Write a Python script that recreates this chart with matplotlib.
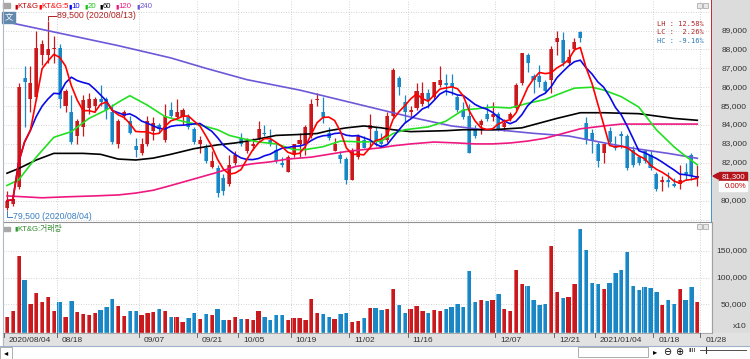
import numpy as np
import pandas as pd
import matplotlib.pyplot as plt
import matplotlib.transforms as mtransforms
from matplotlib.patches import Rectangle, Polygon

plt.rcParams['font.family'] = ['Liberation Sans', 'Noto Sans CJK KR', 'DejaVu Sans']

# KT&G 일봉 (2020/08/04 ~ 2021/01/27), 값은 차트에서 읽음
opens = [79600, 79800, 80700, 86500, 85400, 85500, 87700, 87700, 88000, 88100,
         85000, 84700, 83400, 83900, 84900, 85000, 85400, 85400, 84700, 83000,
         84500, 84200, 82900, 82500, 83000, 83700, 84000, 83200, 84800, 84400,
         84400, 84400, 83800, 83000, 82800, 81800, 81700, 81200, 80900, 82000,
         83300, 82600, 82900, 83300, 83600, 83200, 82700, 82000, 81500, 82400,
         83000, 83000, 83400, 85300, 84700, 83600, 82600, 82400, 82200, 81100,
         82300, 83200, 83800, 83700, 83200, 83200, 84500, 86500, 85200, 84700,
         84900, 85100, 85700, 85500, 86100, 86200, 86200, 85500, 84800, 84500,
         83800, 84000, 84600, 84400, 84600, 83900, 84300, 84900, 86200, 87700,
         86600, 86600, 86300, 86400, 88400, 88500, 87300, 88000, 88900, 84100,
         83600, 83000, 82500, 83700, 82900, 83500, 83400, 82700, 82300, 82600,
         82400, 81400, 81000, 81100, 80900, 80900, 81500, 82400, 81200]
highs = [80500, 80300, 86200, 87100, 87100, 89000, 88500, 89500, 88700, 88300,
         85900, 85600, 84300, 85600, 85700, 85500, 86100, 85500, 85100, 84300,
         84800, 84500, 83300, 83300, 84500, 84400, 84100, 85100, 85200, 85400,
         84900, 84600, 83900, 83400, 83000, 82600, 81900, 81400, 82400, 82600,
         83600, 83300, 83300, 84200, 84000, 83800, 83000, 82300, 82400, 83000,
         83600, 84000, 85400, 85700, 85500, 83900, 83300, 82600, 82300, 82800,
         83500, 83400, 84600, 83900, 83600, 84700, 87000, 86600, 85600, 85000,
         86200, 86300, 85900, 86300, 87100, 86700, 86700, 85600, 85200, 85100,
         84000, 84300, 85100, 85200, 84700, 84300, 84700, 86200, 87800, 87800,
         86700, 87200, 86400, 88200, 89000, 88900, 88000, 88600, 89000, 84400,
         83800, 83100, 83000, 83900, 83400, 83700, 83500, 82900, 82400, 82700,
         82600, 81500, 81300, 81500, 81200, 81900, 82000, 82500, 81900]
lows = [79500, 79700, 80600, 83900, 84700, 85300, 87200, 87300, 87300, 84900,
        84700, 83000, 83000, 83400, 84600, 84700, 85000, 84300, 83000, 82800,
        84300, 83500, 82300, 82400, 82900, 83200, 83600, 83100, 84400, 84300,
        84000, 83800, 83000, 82500, 82000, 81700, 80200, 80300, 80800, 81900,
        82900, 82500, 82700, 83200, 83400, 82900, 82000, 81800, 81500, 82300,
        82300, 82400, 83300, 85000, 84100, 83200, 82600, 82000, 80900, 81100,
        82200, 82800, 82800, 82900, 82900, 83100, 84400, 85600, 84100, 84400,
        84800, 85000, 84900, 85400, 86000, 85600, 85600, 84700, 84300, 82500,
        83300, 83500, 84200, 84200, 83700, 83700, 84200, 84800, 86100, 86800,
        85700, 86000, 85700, 85700, 87700, 87100, 87200, 87900, 88400, 83000,
        82500, 81800, 82000, 83000, 82700, 82800, 81600, 81800, 81900, 82000,
        81600, 80500, 80500, 80700, 80700, 80600, 81100, 81100, 80800]
closes = [80000, 80100, 86000, 86300, 86200, 88100, 88300, 88000, 88100, 85400,
          85800, 83100, 84200, 85300, 85400, 85400, 85200, 84800, 83100, 84200,
          84700, 83600, 82700, 83000, 84200, 84100, 83800, 84500, 84500, 84700,
          84800, 83900, 83100, 83200, 82100, 82100, 80400, 80500, 81900, 82400,
          83000, 83100, 83000, 83800, 83500, 83000, 82100, 81900, 82300, 83000,
          83200, 83900, 85100, 85400, 84400, 83300, 83000, 82200, 81100, 82600,
          83400, 82800, 84000, 83100, 83000, 84500, 86900, 86000, 84700, 84800,
          85800, 85700, 85300, 86300, 86400, 86100, 86000, 84800, 84400, 82500,
          83400, 84200, 84300, 84600, 83800, 84100, 84600, 86100, 87800, 87300,
          86400, 86300, 85800, 88000, 88600, 87300, 87600, 88400, 88600, 83200,
          83200, 82100, 83000, 83100, 82800, 83400, 81700, 81900, 82000, 82100,
          81700, 80600, 81100, 81000, 80800, 81100, 81400, 81300, 81300]
volumes = [26900, 37500, 140100, 95300, 50600, 70500, 55000, 63600, 37500, 53600,
           26900, 56200, 35700, 31300, 30000, 34400, 39400, 45600, 59900, 46800,
           28200, 38100, 38100, 29400, 34400, 35700, 40700, 37500, 26900, 26900,
           16900, 23800, 34400, 21900, 31900, 30600, 41900, 20000, 20600, 25600,
           23100, 21900, 20700, 37500, 26900, 20700, 29400, 29400, 20700, 24400,
           24400, 20700, 59900, 33200, 31300, 25600, 21900, 31300, 34400, 17600,
           19500, 24400, 43700, 43700, 39400, 40700, 77900, 48700, 34400, 40700,
           46800, 38100, 34400, 39400, 37500, 40700, 45600, 50000, 45600, 111500,
           54300, 58000, 56200, 57500, 69800, 40700, 38100, 114000, 88500, 83500,
           57500, 48000, 50600, 159400, 73600, 61800, 64200, 87300, 189900, 150700,
           89800, 88500, 78500, 89800, 107800, 113400, 148200, 83500, 77300, 82300,
           81100, 73600, 49300, 57500, 50000, 77900, 57500, 82300, 53700]

# 이동평균 20/60/120/240 (차트에서 읽은 값, 봉 번호 기준)
ma20_idx = [0, 2, 5, 8, 11, 14, 17, 19, 21, 24, 27, 30, 33, 36, 38, 40, 43, 46, 49, 51,
            54, 57, 61, 64, 66, 68, 72, 75, 78, 80, 83, 86, 89, 92, 94, 97, 100, 102, 105, 108,
            111, 114, 116, 118]
ma20_val = [80800, 81100, 82300, 83350, 83650, 84350, 84800, 85200, 85550, 85050,
            84450, 84200, 84000, 83750, 83450, 83300, 83100, 83000, 82700, 82700,
            82850, 83150, 83100, 83150, 83550, 83750, 83900, 84200, 84800, 84850,
            84950, 84900, 85150, 85350, 85600, 85950, 86000, 85850, 85500, 84950,
            83750, 82850, 82350, 81900]
ma60_idx = [0, 2, 5, 8, 13, 16, 19, 22, 25, 28, 32, 36, 39, 42, 46, 50, 53, 55, 58, 61,
            64, 66, 69, 75, 78, 83, 88, 91, 94, 98, 102, 108, 114, 118]
ma60_val = [81450, 81700, 82150, 82500, 82500, 82450, 82200, 82150, 82250, 82450,
            82750, 82950, 83050, 83200, 83450, 83500, 83550, 83700, 83850, 83950,
            83850, 83750, 83650, 83700, 83750, 83750, 83850, 84100, 84350, 84650,
            84650, 84600, 84350, 84250]
ma120_idx = [0, 6, 10, 15, 19, 22, 25, 28, 32, 36, 39, 42, 45, 48, 52, 55, 58, 61, 64, 66,
             69, 73, 77, 80, 83, 86, 89, 92, 95, 98, 102, 105, 111, 118]
ma120_val = [80250, 80150, 80200, 80250, 80300, 80400, 80550, 80800, 81150, 81500,
             81800, 81950, 82050, 82200, 82300, 82450, 82600, 82700, 82800, 82900,
             83000, 83100, 83050, 83000, 83000, 83050, 83150, 83300, 83550, 83800,
             83950, 84050, 84050, 84050]
ma240_idx = [0, 19, 28, 34, 41, 50, 56, 64, 70, 76, 81, 84, 90, 96, 101, 107, 113, 118]
ma240_val = [89450, 88200, 87550, 87000, 86400, 85850, 85400, 84800, 84350, 83950,
             83770, 83740, 83560, 83420, 83120, 82770, 82500, 82240]

tick_idx = [0, 9, 23, 33, 40, 49, 59, 69, 84, 94, 101, 111, 119]
tick_labels = ['2020/08/04', '08/18', '09/07', '09/21', '10/05', '10/19', '11/02',
               '11/16', '12/07', '12/21', '2021/01/04', '01/18', '01/28']

RED, BLUE = '#c8191f', '#1a86c4'
RED_HI, BLUE_HI = '#e46a6a', '#6bbde8'

o = np.array(opens, float)
h = np.array(highs, float)
l = np.array(lows, float)
c = np.array(closes, float)
v = np.array(volumes, float)
x = np.arange(len(c))
up = c >= o
col = np.where(up, RED, BLUE)
col_hi = np.where(up, RED_HI, BLUE_HI)

ma5 = pd.Series(c).rolling(5, min_periods=1).mean()
ma10 = pd.Series(c).rolling(10, min_periods=1).mean()

W, H = 750, 359
fig = plt.figure(figsize=(W / 100, H / 100), dpi=100)


def fx(px):
    return px / W


def fy(py):
    return 1 - py / H


# 오른쪽 회색 축 영역
fig.patches.append(Rectangle((fx(712), fy(345)), fx(750) - fx(712), fy(0) - fy(345),
                             transform=fig.transFigure, color='#dcdcdc', zorder=0))

ax = fig.add_axes([fx(3), fy(222), fx(711) - fx(3), (222 - 1) / H])
axv = fig.add_axes([fx(3), fy(333), fx(711) - fx(3), (333 - 222) / H])
x_lo, x_hi = (3 - 7) / 5.85, (711 - 7) / 5.85
for a in (ax, axv):
    a.set_xlim(x_lo, x_hi)
    a.set_xticks([])
    a.set_yticks([])
    for s in a.spines.values():
        s.set_visible(False)

p_lo, p_hi = 89000 - (222 - 30.5) * 52.9, 89000 + (30.5 - 1) * 52.9
ax.set_ylim(p_lo, p_hi)
v_lo, v_hi = -(333 - 331.1) * 1866, (331.1 - 222) * 1866
axv.set_ylim(v_lo, v_hi)

dot = (0, (1, 2))
grid_x = [i - 0.5 for i in tick_idx[1:]]
ax.hlines(np.arange(79000, 90001, 1000), x_lo, x_hi, colors='#c4c4c4', lw=0.6, linestyles=dot, zorder=0)
ax.vlines(grid_x, p_lo, p_hi, colors='#c4c4c4', lw=0.6, linestyles=dot, zorder=0)
axv.hlines([50000, 100000, 150000], x_lo, x_hi, colors='#c4c4c4', lw=0.6, linestyles=dot, zorder=0)
axv.vlines(grid_x, v_lo, v_hi, colors='#c4c4c4', lw=0.6, linestyles=dot, zorder=0)

# 캔들
body = np.maximum(np.abs(c - o), 60)
ax.vlines(x, l, h, colors=col, lw=0.9, zorder=2)
ax.bar(x, body, bottom=np.minimum(o, c), width=0.7, color=col, lw=0, zorder=2)
ax.bar(x - 0.26, body, bottom=np.minimum(o, c), width=0.17, color=col_hi, lw=0, zorder=2)

# 이동평균선
ax.plot(ma240_idx, ma240_val, color='#6e58d8', lw=1.2, zorder=3)
ax.plot(ma120_idx, ma120_val, color='#ee1880', lw=1.2, zorder=3)
ax.plot(ma60_idx, ma60_val, color='#000000', lw=1.2, zorder=3)
ax.plot(ma20_idx, ma20_val, color='#22e022', lw=1.2, zorder=3)
ax.plot(x, ma10, color='#0a0ae6', lw=1.2, zorder=3)
ax.plot(x, ma5, color='#ff0000', lw=1.2, zorder=3)

# 최고/최저 표시
i_hi, i_lo = int(np.argmax(h)), int(np.argmin(l))
y_hi_txt = 89000 + (30.5 - 15.5) * 52.9
ax.plot([i_hi, i_hi, i_hi + 1.4], [h[i_hi] + 60, y_hi_txt, y_hi_txt], color='#b02020', lw=0.7, zorder=4)
ax.text(i_hi + 1.6, y_hi_txt, '89,500 (2020/08/13)', color='#b02020', fontsize=6.3, va='center', zorder=4)
y_lo_txt = 89000 - (216.7 - 30.5) * 52.9
ax.plot([i_lo, i_lo, i_lo + 0.85], [l[i_lo] - 60, y_lo_txt, y_lo_txt], color='#3a7fc0', lw=0.7, zorder=4)
ax.text(i_lo + 1.1, y_lo_txt, '79,500 (2020/08/04)', color='#3a7fc0', fontsize=6.3, va='center', zorder=4)

# 거래량
axv.bar(x, v - v_lo, bottom=v_lo, width=0.74, color=col, lw=0, zorder=2)
axv.bar(x - 0.27, v - v_lo, bottom=v_lo, width=0.16, color=col_hi, lw=0, zorder=2)

# 현재가
last = c[-1]
last_py = 30.5 + (89000 - last) / 52.9

# 오른쪽 가격축 라벨 (현재가 박스에 가려지는 눈금은 생략)
tr_p = mtransforms.blended_transform_factory(fig.transFigure, ax.transData)
for p in range(80000, 90000, 1000):
    py = 30.5 + (89000 - p) / 52.9
    if -9 < py - last_py < 20:
        continue
    fig.text(fx(747), p, f'{p:,}', transform=tr_p, ha='right', va='center', fontsize=6, color='#333333')
tr_v = mtransforms.blended_transform_factory(fig.transFigure, axv.transData)
for vv in [50000, 100000, 150000]:
    fig.text(fx(747), vv, f'{vv:,}', transform=tr_v, ha='right', va='center', fontsize=6, color='#333333')
fig.text(fx(747), fy(327), 'x10', ha='right', va='center', fontsize=6, color='#333333')

# 현재가 표시선과 박스
tr_line = mtransforms.blended_transform_factory(fig.transFigure, ax.transData)
ax.plot([fx(711.5)] * 2, [last, p_hi], transform=tr_line, color='#c00000', lw=1.4, clip_on=False, zorder=5)
ax.plot([fx(711.5)] * 2, [p_lo, last], transform=tr_line, color='#1a86c4', lw=1.4, clip_on=False, zorder=5)
tri_y = fy(last_py)
fig.patches.append(Polygon([[fx(713), tri_y], [fx(718.5), tri_y + 3 / H], [fx(718.5), tri_y - 3 / H]],
                           closed=True, transform=fig.transFigure, color='#b4141c', zorder=6))
fig.patches.append(Rectangle((fx(719), tri_y - 4.5 / H), 28 / W, 9 / H, transform=fig.transFigure,
                             color='#b4141c', zorder=6))
fig.text(fx(733), tri_y, f'{int(last):,}', ha='center', va='center', fontsize=5.6, color='white', zorder=7)
fig.patches.append(Rectangle((fx(719), tri_y - 14.5 / H), 28 / W, 9.5 / H, transform=fig.transFigure,
                             color='white', zorder=6))
fig.text(fx(746), tri_y - 10 / H, '0.00%', ha='right', va='center', fontsize=5.6, color='#c00000', zorder=7)

# 범례
legend = [('KT&G', '#c00000'), ('KT&G:5', '#ff0000'), ('10', '#0a0ae6'), ('20', '#22c022'),
          ('60', '#000000'), ('120', '#ee1880'), ('240', '#6e58d8')]
lx = [14, 38, 68, 84, 99, 115, 136]
for (name, cc), px in zip(legend, lx):
    fig.text(fx(px), fy(6.5), '▮', color=cc, fontsize=4.5, va='center', family='DejaVu Sans')
    fig.text(fx(px + 3.5), fy(6.5), name, color=cc, fontsize=5.6, va='center')
fig.patches.append(Rectangle((fx(3), fy(8)), 7 / W, 4.5 / H, transform=fig.transFigure, color='#a8a8a8'))
fig.patches.append(Rectangle((fx(2), fy(22.5)), 13 / W, 11 / H, transform=fig.transFigure, color='#6288ae'))
fig.text(fx(8.5), fy(17), '文', color='white', fontsize=6, ha='center', va='center',
         family=['Noto Sans CJK KR', 'DejaVu Sans'])
for px in (697, 703):
    fig.patches.append(Rectangle((fx(px), fy(8)), 5 / W, 5 / H, transform=fig.transFigure,
                                 facecolor='#e8e8e8', edgecolor='#a0a0a0', lw=0.5))
    fig.patches.append(Rectangle((fx(px), fy(229)), 5 / W, 5 / H, transform=fig.transFigure,
                                 facecolor='#e8e8e8', edgecolor='#a0a0a0', lw=0.5))

fig.text(fx(704), fy(24), 'LH : 12.58%', color='#b22222', fontsize=5, ha='right', va='center', family='DejaVu Sans Mono')
fig.text(fx(704), fy(32.3), 'LC :  2.26%', color='#b22222', fontsize=5, ha='right', va='center', family='DejaVu Sans Mono')
fig.text(fx(704), fy(40.7), 'HC : -9.16%', color='#2a7ab8', fontsize=5, ha='right', va='center', family='DejaVu Sans Mono')

fig.patches.append(Rectangle((fx(4), fy(231)), 6 / W, 4 / H, transform=fig.transFigure, color='#a8a8a8'))
fig.text(fx(14), fy(229), '▮', color='#2e9a2e', fontsize=4.5, va='center', family='DejaVu Sans')
fig.text(fx(17.5), fy(229), 'KT&G:거래량', color='#2e8b2e', fontsize=5.6, va='center')

# 패널 경계
fig.add_artist(plt.Line2D([fx(3), fx(711)], [fy(222), fy(222)], color='#909090', lw=0.8))
fig.add_artist(plt.Line2D([fx(3), fx(3)], [fy(0), fy(345)], color='#b0b8c8', lw=0.8))
fig.add_artist(plt.Line2D([fx(711.5), fx(711.5)], [fy(222), fy(333)], color='#a0a0a0', lw=0.8))

# 날짜 축
fig.patches.append(Rectangle((fx(3), fy(345)), fx(750) - fx(3), 12 / H, transform=fig.transFigure,
                             color='#e2e2e2', zorder=1))
fig.add_artist(plt.Line2D([fx(3), fx(711)], [fy(333), fy(333)], color='#a0a0a0', lw=0.6))
tr_x = mtransforms.blended_transform_factory(axv.transData, fig.transFigure)
for i, lab in zip(tick_idx, tick_labels):
    fig.add_artist(plt.Line2D([i - 0.5, i - 0.5], [fy(333), fy(337)], transform=tr_x, color='#555555', lw=0.6))
    fig.text(i + 0.35, fy(340.5), lab, transform=tr_x, fontsize=6, va='center', color='#303030')

# 하단 스크롤 영역
fig.add_artist(plt.Line2D([0, 1], [fy(345.5), fy(345.5)], color='#9fb0c8', lw=0.8))
fig.patches.append(Rectangle((fx(0), fy(359)), 12 / W, 12 / H, transform=fig.transFigure,
                             facecolor='white', edgecolor='#a0a0a0', lw=0.6))
fig.text(fx(6), fy(352.5), '◂', fontsize=6, ha='center', va='center', family='DejaVu Sans')
fig.patches.append(Rectangle((fx(578), fy(357)), 70 / W, 10 / H, transform=fig.transFigure,
                             facecolor='white', edgecolor='#a0a0a0', lw=0.6))
fig.text(fx(655), fy(352), '▸', fontsize=6, ha='center', va='center', family='DejaVu Sans')
fig.text(fx(667), fy(352), '⊖', fontsize=7, ha='center', va='center', family='DejaVu Sans')
fig.text(fx(679), fy(352), '⊕', fontsize=7, ha='center', va='center', family='DejaVu Sans')
fig.text(fx(692), fy(351), 'IIII', fontsize=4.5, ha='center', va='center', family='DejaVu Sans')
fig.add_artist(plt.Line2D([fx(700), fx(746)], [fy(350), fy(350)], color='#333333', lw=0.6))
fig.add_artist(plt.Line2D([fx(706), fx(706)], [fy(347), fy(353)], color='#333333', lw=0.8))

fig.savefig('out.png', dpi=100)
